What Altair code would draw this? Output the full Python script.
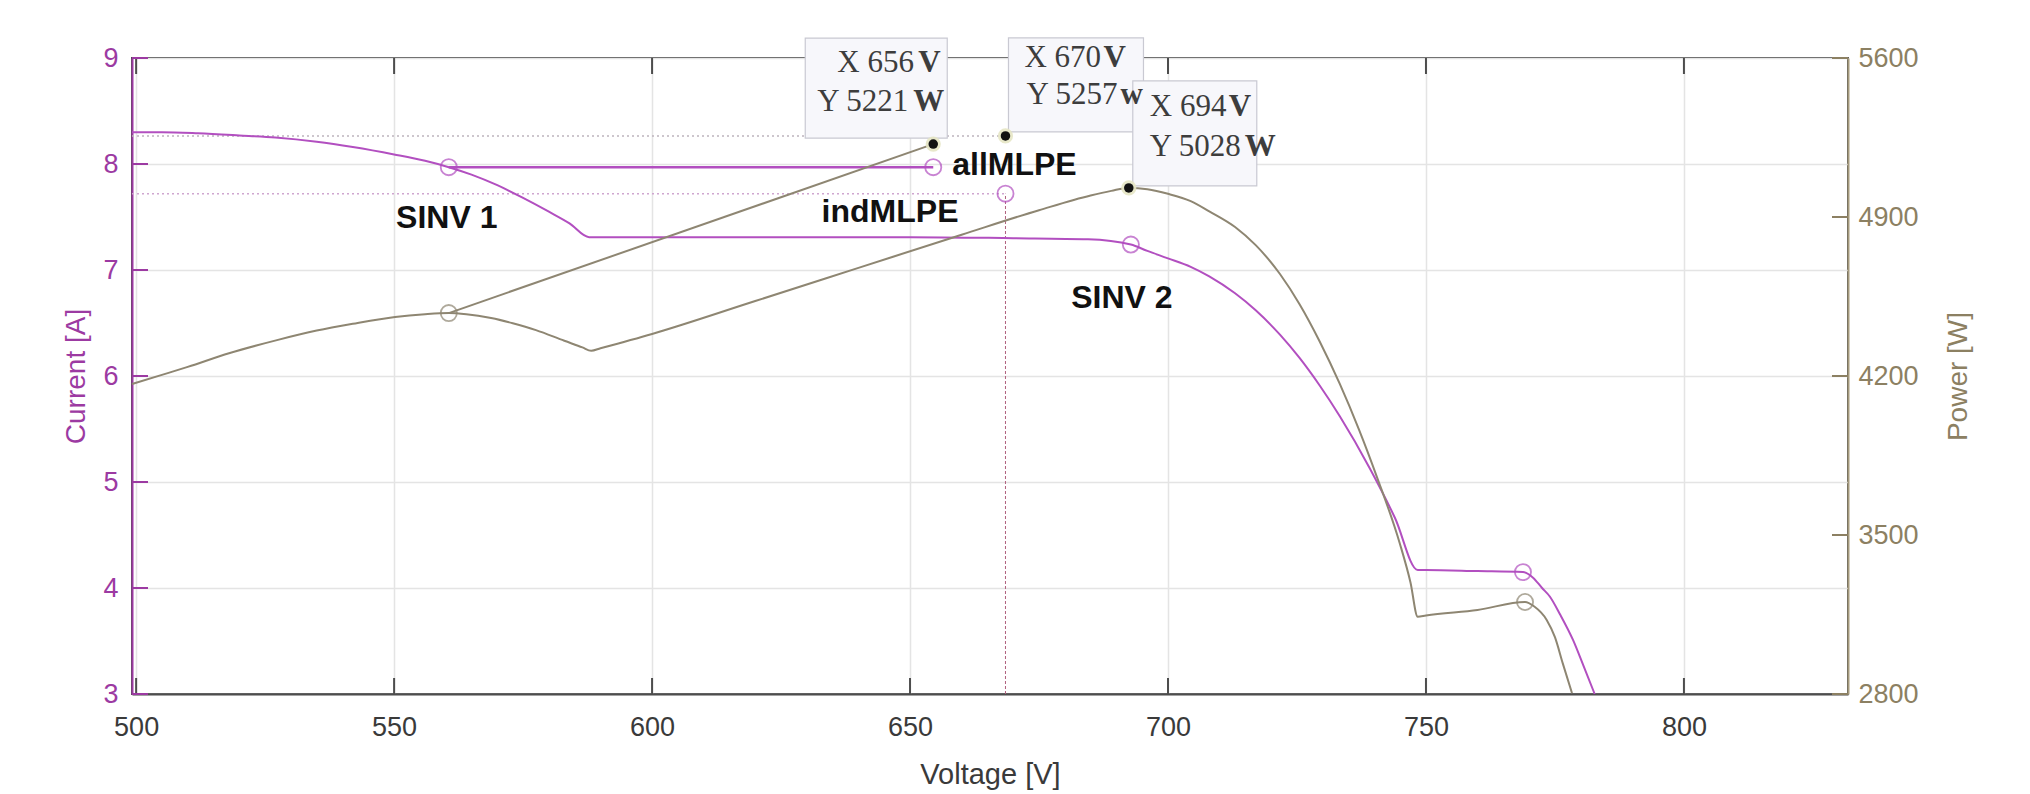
import altair as alt
import pandas as pd

# ---------------- data ----------------
x_ticks = [500, 550, 600, 650, 700, 750, 800]
x_domain = [499.2, 831.8]
i_ticks = [3, 4, 5, 6, 7, 8, 9]
i_domain = [3, 9]
p_ticks = [2800, 3500, 4200, 4900, 5600]
p_domain = [2800, 5600]

# I-V curve (purple)
iv_v = [499.2, 505, 512, 520, 527, 535, 542, 550, 556, 560.6, 565, 570, 575, 580, 584, 587.8,
        589.5, 600, 620, 650, 670, 684.5, 692.8, 696, 700, 704.4, 708, 713, 717, 721.7, 725.5, 729.4,
        733.3, 739.1, 744, 748.4, 750, 760, 768.8, 770.7, 772.5, 774, 776, 778.5, 780.5, 782.7]
iv_i = [8.30, 8.30, 8.29, 8.27, 8.25, 8.21, 8.16, 8.09, 8.03, 7.97, 7.90, 7.80, 7.68, 7.55, 7.44, 7.31,
        7.31, 7.31, 7.31, 7.31, 7.30, 7.29, 7.24, 7.18, 7.11, 7.03, 6.94, 6.78, 6.62, 6.39, 6.17, 5.91,
        5.62, 5.13, 4.66, 4.17, 4.17, 4.16, 4.15, 4.10, 4.00, 3.92, 3.75, 3.51, 3.27, 3.00]

# P-V curve (tan)
pv_v = [499.2, 505, 510, 518, 527.3, 535, 542, 550.2, 556, 560.6, 564, 568.8, 573, 577.5, 583, 586.5,
        588.2, 590, 600, 620, 640, 660, 675, 685, 689, 692.4, 696, 700, 704.4, 708, 713, 717, 721.7,
        725.5, 729.4, 733.3, 737, 740.5, 744.9, 747, 748.4, 750, 760, 769.2, 771, 773.4, 775, 776.5,
        778.3]
pv_p = [4165, 4205, 4240, 4300, 4358, 4400, 4430, 4460, 4472, 4477, 4472, 4455, 4432, 4402, 4355, 4326,
        4311, 4322, 4385, 4530, 4676, 4822, 4930, 4995, 5015, 5028, 5022, 5002, 4970, 4925, 4856, 4776,
        4649, 4516, 4352, 4165, 3965, 3755, 3465, 3291, 3140, 3146, 3170, 3205, 3185, 3126, 3050, 2936,
        2804]

# allMLPE operating lines
all_v = [560.6, 654.5]
all_i = [7.97, 7.97]
all_p = [4477, 5221]

# open-circle markers
cur_mark_v = [560.6, 654.5, 668.5, 692.8, 768.8]
cur_mark_i = [7.97, 7.97, 7.72, 7.24, 4.15]
pow_mark_v = [560.6, 769.2]
pow_mark_p = [4477, 3205]

# indMLPE reference point
ind_v = 668.5
ind_i = 7.72
ind_p = 5257

# data tips
tip_v = [654.5, 668.5, 692.4]
tip_p = [5221, 5257, 5028]
tip_x = ["X 656", "X 670", "X 694"]
tip_ux = ["V", "V", "V"]
tip_y = ["Y 5221", "Y 5257", "Y 5028"]
tip_uy = ["W", "w", "W"]

# curve labels (anchored to current markers)
lab_text = ["SINV 1", "allMLPE", "indMLPE", "SINV 2"]
lab_v = [560.6, 654.5, 668.5, 692.8]
lab_i = [7.97, 7.97, 7.72, 7.24]

# ---------------- style ----------------
FONT = "Liberation Sans"
SERIF = "Liberation Serif"
PURPLE_LINE = "#b24fc0"
PURPLE_AX = "#9c3aa2"
TAN_LINE = "#8e8672"
TAN_AX = "#8c8062"
FRAME = "#4d4d4d"
GRID = "#e4e4e4"
W, H = 1716, 636

tip_box = [(-128, 14, -106, -6), (3, 138, -98, -4), (4, 128, -107, -2)]
tip_dy = [(-81, -42), (-78, -41), (-81, -41)]
tip_dx1 = [(-96, -15), (19, 98), (21, 100)]
tip_dx2 = [(-116, -20), (21, 115), (21, 116)]
lab_style = [("center", -2, 61), ("left", 19, 8), ("right", -47, 28), ("center", -9, 63)]

xs = alt.Scale(domain=x_domain, nice=False, zero=False)
isc = alt.Scale(domain=i_domain, nice=False, zero=False)
psc = alt.Scale(domain=p_domain, nice=False, zero=False)


def X(axis=None):
    return alt.X("v:Q", scale=xs, axis=axis)


def YI(axis=None):
    return alt.Y("i:Q", scale=isc, axis=axis)


def YP(axis=None):
    return alt.Y("p:Q", scale=psc, axis=axis)


x_axis = alt.Axis(values=x_ticks, title="Voltage [V]", orient="bottom", labelFont=FONT,
                  labelFontSize=27, labelColor="#3a3a3a", titleFont=FONT, titleFontSize=29,
                  titleFontWeight="normal", titleColor="#3a3a3a", domainColor=FRAME, domainWidth=2,
                  ticks=False, tickSize=0, grid=True, gridColor=GRID, gridWidth=1.5,
                  labelPadding=20, titlePadding=20, labelFlush=False, format="d")
i_axis = alt.Axis(values=i_ticks, title="Current [A]", orient="left", labelFont=FONT,
                  labelFontSize=27, labelColor=PURPLE_AX, titleFont=FONT, titleFontSize=28,
                  titleFontWeight="normal", titleColor=PURPLE_AX, domainColor=PURPLE_AX,
                  domainWidth=2, ticks=False, tickSize=0, grid=True, gridColor=GRID, gridWidth=1.5,
                  labelPadding=14, titlePadding=12, format="d")
p_axis = alt.Axis(values=p_ticks, title="Power [W]", orient="right", labelFont=FONT,
                  labelFontSize=27, labelColor=TAN_AX, titleFont=FONT, titleFontSize=28,
                  titleFontWeight="normal", titleColor=TAN_AX, domainColor="#a59a7c",
                  domainWidth=2, ticks=False, tickSize=0, grid=False, labelPadding=10,
                  titlePadding=54, titleAngle=270, format="d")

layers = []

# dotted reference lines
layers.append(alt.Chart(pd.DataFrame({"v": [x_domain[0]], "v2": [ind_v], "p": [ind_p]}))
              .mark_rule(color="#bdb4bd", strokeWidth=1.5, strokeDash=[2, 3])
              .encode(x=X(), x2="v2:Q", y=YP()))
layers.append(alt.Chart(pd.DataFrame({"v": [x_domain[0]], "v2": [ind_v], "i": [ind_i]}))
              .mark_rule(color="#cfa6d0", strokeWidth=1.5, strokeDash=[2, 3])
              .encode(x=X(), x2="v2:Q", y=YI()))
layers.append(alt.Chart(pd.DataFrame({"v": [ind_v], "i": [i_domain[0]], "i2": [ind_i]}))
              .mark_rule(color="#b0607e", strokeWidth=1, strokeDash=[3, 2])
              .encode(x=X(), y=YI(), y2="i2:Q"))

# curves
layers.append(alt.Chart(pd.DataFrame({"v": iv_v, "i": iv_i}))
              .mark_line(color=PURPLE_LINE, strokeWidth=2, interpolate="monotone")
              .encode(x=X(x_axis), y=YI(i_axis)))
layers.append(alt.Chart(pd.DataFrame({"v": pv_v, "p": pv_p}))
              .mark_line(color=TAN_LINE, strokeWidth=2, interpolate="monotone")
              .encode(x=X(), y=YP(p_axis)))
layers.append(alt.Chart(pd.DataFrame({"v": all_v, "i": all_i}))
              .mark_line(color=PURPLE_LINE, strokeWidth=2.5)
              .encode(x=X(), y=YI()))
layers.append(alt.Chart(pd.DataFrame({"v": all_v, "p": all_p}))
              .mark_line(color=TAN_LINE, strokeWidth=2)
              .encode(x=X(), y=YP()))

# markers
layers.append(alt.Chart(pd.DataFrame({"v": cur_mark_v, "i": cur_mark_i}))
              .mark_point(shape="circle", filled=False, size=260, strokeWidth=1.8, color=PURPLE_LINE)
              .encode(x=X(), y=YI()))
layers.append(alt.Chart(pd.DataFrame({"v": pow_mark_v, "p": pow_mark_p}))
              .mark_point(shape="circle", filled=False, size=260, strokeWidth=1.8, color=TAN_LINE)
              .encode(x=X(), y=YP()))

# inward ticks
layers.append(alt.Chart(pd.DataFrame({"v": x_ticks})).mark_rule(color=FRAME, strokeWidth=2)
              .encode(x=X(), y=alt.value(H), y2=alt.value(H - 16)))
layers.append(alt.Chart(pd.DataFrame({"v": x_ticks})).mark_rule(color=FRAME, strokeWidth=2)
              .encode(x=X(), y=alt.value(0), y2=alt.value(16)))
layers.append(alt.Chart(pd.DataFrame({"i": i_ticks})).mark_rule(color=PURPLE_AX, strokeWidth=2)
              .encode(y=YI(), x=alt.value(0), x2=alt.value(16)))
layers.append(alt.Chart(pd.DataFrame({"p": p_ticks})).mark_rule(color=TAN_AX, strokeWidth=2)
              .encode(y=YP(), x=alt.value(W), x2=alt.value(W - 16)))

# data-tip boxes
for k in range(3):
    bx0, bx1, by0, by1 = tip_box[k]
    df = pd.DataFrame({"v": [tip_v[k]], "p": [tip_p[k]]})
    layers.append(alt.Chart(df).mark_rect(fill="#f7f7fb", stroke="#c9c9d2", strokeWidth=1.2,
                                          xOffset=bx0, x2Offset=bx1, yOffset=by0, y2Offset=by1)
                  .encode(x=X(), x2="v:Q", y=YP(), y2="p:Q"))

# data-tip texts
for k in range(3):
    pieces = [
        (tip_x[k], tip_dx1[k][0], tip_dy[k][0], "normal"),
        (tip_ux[k], tip_dx1[k][1], tip_dy[k][0], "bold"),
        (tip_y[k], tip_dx2[k][0], tip_dy[k][1], "normal"),
        (tip_uy[k], tip_dx2[k][1], tip_dy[k][1], "bold"),
    ]
    for txt, dx, dy, wt in pieces:
        df = pd.DataFrame({"v": [tip_v[k]], "p": [tip_p[k]], "t": [txt]})
        layers.append(alt.Chart(df).mark_text(align="left", baseline="middle", dx=dx, dy=dy,
                                              font=SERIF, fontSize=31, fontWeight=wt,
                                              color="#3d3d3d")
                      .encode(x=X(), y=YP(), text="t:N"))

# black data-tip dots
tip_df = pd.DataFrame({"v": tip_v, "p": tip_p})
layers.append(alt.Chart(tip_df).mark_circle(size=230, color="#e6e5c4", opacity=0.9)
              .encode(x=X(), y=YP()))
layers.append(alt.Chart(tip_df).mark_circle(size=90, color="#111111", opacity=1)
              .encode(x=X(), y=YP()))

# bold curve labels
for k in range(4):
    al, dx, dy = lab_style[k]
    df = pd.DataFrame({"v": [lab_v[k]], "i": [lab_i[k]], "t": [lab_text[k]]})
    layers.append(alt.Chart(df).mark_text(align=al, baseline="alphabetic", dx=dx, dy=dy,
                                          font=FONT, fontSize=32, fontWeight="bold",
                                          color="#111111")
                  .encode(x=X(), y=YI(), text="t:N"))

chart = (alt.layer(*layers)
         .resolve_scale(y="independent")
         .resolve_axis(x="independent", y="independent")
         .properties(width=W, height=H, autosize=alt.AutoSizeParams(type="none"),
                     padding={"left": 124, "top": 50, "right": 160, "bottom": 100})
         .configure_view(stroke=FRAME, strokeWidth=2))

chart.save("out.html", embed_options={"renderer": "svg", "actions": False})
